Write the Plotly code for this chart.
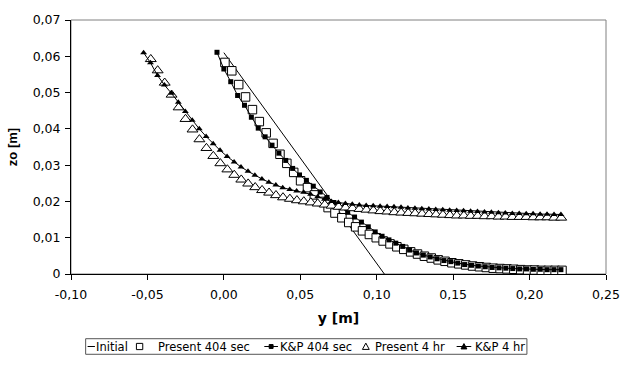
import plotly.graph_objects as go

# ---------------- data ----------------
initial_x = [0.0, 0.105]
initial_y = [0.061, 0.0]

present404_x = [0.0007, 0.0052, 0.0097, 0.0142, 0.0187, 0.0232, 0.0277, 0.0322, 0.0367, 0.0412,
                0.0457, 0.0502, 0.0547, 0.0592, 0.0637, 0.0682, 0.0727, 0.0772, 0.0817, 0.0862,
                0.0907, 0.0952, 0.0997, 0.1042, 0.1087, 0.1132, 0.1177, 0.1222, 0.1267, 0.1312,
                0.1357, 0.1402, 0.1447, 0.1492, 0.1537, 0.1582, 0.1627, 0.1672, 0.1717, 0.1762,
                0.1807, 0.1852, 0.1897, 0.1942, 0.1987, 0.2032, 0.2077, 0.2122, 0.2167, 0.2212]
present404_y = [0.0583, 0.0560, 0.0522, 0.0488, 0.0453, 0.0420, 0.0389, 0.0360, 0.0330, 0.0305,
                0.0280, 0.0257, 0.0238, 0.0218, 0.0200, 0.0183, 0.0168, 0.0155, 0.0142, 0.0130,
                0.0119, 0.0109, 0.0100, 0.0091, 0.0083, 0.0075, 0.0068, 0.0061, 0.0055, 0.0049,
                0.0044, 0.0039, 0.0035, 0.0031, 0.0028, 0.0025, 0.0022, 0.0020, 0.0018, 0.0016,
                0.0015, 0.0014, 0.0013, 0.0012, 0.0011, 0.0011, 0.0010, 0.0010, 0.0010, 0.0010]

kp404_x = [-0.0045, 0.0000, 0.0045, 0.0090, 0.0135, 0.0180, 0.0225, 0.0270, 0.0315, 0.0360,
           0.0405, 0.0450, 0.0495, 0.0540, 0.0585, 0.0630, 0.0675, 0.0720, 0.0765, 0.0810,
           0.0855, 0.0900, 0.0945, 0.0990, 0.1035, 0.1080, 0.1125, 0.1170, 0.1215, 0.1260,
           0.1305, 0.1350, 0.1395, 0.1440, 0.1485, 0.1530, 0.1575, 0.1620, 0.1665, 0.1710,
           0.1755, 0.1800, 0.1845, 0.1890, 0.1935, 0.1980, 0.2025, 0.2070, 0.2115, 0.2160,
           0.2205]
kp404_y = [0.0611, 0.0565, 0.0530, 0.0492, 0.0465, 0.0432, 0.0402, 0.0378, 0.0355, 0.0333,
           0.0313, 0.0291, 0.0273, 0.0258, 0.0242, 0.0226, 0.0211, 0.0197, 0.0183, 0.0170,
           0.0157, 0.0143, 0.0130, 0.0116, 0.0104, 0.0094, 0.0085, 0.0076, 0.0066, 0.0058,
           0.0052, 0.0047, 0.0042, 0.0037, 0.0034, 0.0030, 0.0026, 0.0024, 0.0022, 0.0020,
           0.0018, 0.0017, 0.0016, 0.0015, 0.0014, 0.0014, 0.0013, 0.0013, 0.0012, 0.0012,
           0.0012]

present4h_x = [-0.0478, -0.0433, -0.0387, -0.0342, -0.0296, -0.0251, -0.0205, -0.0160, -0.0114, -0.0069,
               -0.0023, 0.0023, 0.0068, 0.0114, 0.0159, 0.0205, 0.0250, 0.0296, 0.0341, 0.0387,
               0.0432, 0.0478, 0.0523, 0.0569, 0.0614, 0.0660, 0.0705, 0.0751, 0.0796, 0.0842,
               0.0887, 0.0933, 0.0978, 0.1024, 0.1069, 0.1115, 0.1160, 0.1206, 0.1251, 0.1297,
               0.1342, 0.1388, 0.1433, 0.1479, 0.1524, 0.1570, 0.1615, 0.1661, 0.1706, 0.1752,
               0.1797, 0.1843, 0.1888, 0.1934, 0.1979, 0.2025, 0.2070, 0.2116, 0.2161, 0.2207]
present4h_y = [0.0592, 0.0561, 0.0527, 0.0494, 0.0459, 0.0427, 0.0398, 0.0371, 0.0347, 0.0325,
               0.0305, 0.0288, 0.0273, 0.0260, 0.0249, 0.0239, 0.0231, 0.0224, 0.0217, 0.0211,
               0.0207, 0.0203, 0.0200, 0.0197, 0.0194, 0.0191, 0.0188, 0.0185, 0.0183, 0.0181,
               0.0179, 0.0177, 0.0175, 0.0173, 0.0172, 0.0170, 0.0169, 0.0168, 0.0167, 0.0166,
               0.0165, 0.0164, 0.0163, 0.0162, 0.0161, 0.0161, 0.0160, 0.0160, 0.0159, 0.0159,
               0.0158, 0.0158, 0.0157, 0.0157, 0.0157, 0.0156, 0.0156, 0.0156, 0.0155, 0.0155]

kp4h_x = [-0.0525, -0.0480, -0.0434, -0.0389, -0.0343, -0.0298, -0.0252, -0.0207, -0.0161, -0.0116,
          -0.0070, -0.0025, 0.0021, 0.0067, 0.0112, 0.0158, 0.0203, 0.0249, 0.0294, 0.0340,
          0.0385, 0.0431, 0.0476, 0.0522, 0.0567, 0.0613, 0.0658, 0.0704, 0.0749, 0.0795,
          0.0840, 0.0886, 0.0931, 0.0977, 0.1022, 0.1068, 0.1113, 0.1159, 0.1204, 0.1250,
          0.1295, 0.1341, 0.1386, 0.1432, 0.1477, 0.1523, 0.1568, 0.1614, 0.1659, 0.1705,
          0.1750, 0.1796, 0.1841, 0.1887, 0.1932, 0.1978, 0.2023, 0.2069, 0.2114, 0.2160,
          0.2205]
kp4h_y = [0.0610, 0.0582, 0.0547, 0.0521, 0.0498, 0.0473, 0.0448, 0.0424, 0.0400, 0.0379,
          0.0359, 0.0341, 0.0324, 0.0309, 0.0295, 0.0283, 0.0272, 0.0262, 0.0253, 0.0245,
          0.0238, 0.0233, 0.0229, 0.0225, 0.0220, 0.0213, 0.0206, 0.0200, 0.0197, 0.0194,
          0.0192, 0.0190, 0.0189, 0.0188, 0.0187, 0.0186, 0.0185, 0.0184, 0.0182, 0.0181,
          0.0180, 0.0179, 0.0178, 0.0177, 0.0176, 0.0175, 0.0174, 0.0173, 0.0172, 0.0171,
          0.0170, 0.0169, 0.0168, 0.0167, 0.0167, 0.0166, 0.0166, 0.0165, 0.0165, 0.0164,
          0.0164]

series_names = ["Initial", "Present 404 sec", "K&P 404 sec", "Present 4 hr", "K&P 4 hr"]

x_tickvals = [-0.10, -0.05, 0.00, 0.05, 0.10, 0.15, 0.20, 0.25]
x_ticktext = ["-0,10", "-0,05", "0,00", "0,05", "0,10", "0,15", "0,20", "0,25"]
y_tickvals = [0, 0.01, 0.02, 0.03, 0.04, 0.05, 0.06, 0.07]
y_ticktext = ["0", "0,01", "0,02", "0,03", "0,04", "0,05", "0,06", "0,07"]

WIDE = "DejaVu Sans, Verdana, sans-serif"
ARIAL = "Liberation Sans, Arial, sans-serif"

# plot-area geometry in pixels (for the hand-drawn legend box below the chart)
L, R, T, B = 71, 619, 13, 274
W, H = 632, 365


def px(x):
    return (x - L) / (R - L)


def py(y):
    return (B - y) / (B - T)


fig = go.Figure()
fig.add_trace(go.Scatter(x=initial_x, y=initial_y, mode="lines", name=series_names[0],
                         line=dict(color="black", width=1)))
fig.add_trace(go.Scatter(x=present404_x, y=present404_y, mode="markers", name=series_names[1],
                         marker=dict(symbol="square", size=8.5, color="white",
                                     line=dict(color="black", width=1))))
fig.add_trace(go.Scatter(x=kp404_x, y=kp404_y, mode="lines+markers", name=series_names[2],
                         line=dict(color="black", width=1),
                         marker=dict(symbol="square", size=5, color="black")))
fig.add_trace(go.Scatter(x=present4h_x, y=present4h_y, mode="markers", name=series_names[3],
                         marker=dict(symbol="triangle-up", size=9.5, color="white",
                                     line=dict(color="black", width=1))))
fig.add_trace(go.Scatter(x=kp4h_x, y=kp4h_y, mode="lines+markers", name=series_names[4],
                         line=dict(color="black", width=1),
                         marker=dict(symbol="triangle-up", size=6, color="black")))

# ---- legend (drawn as shapes + text to match the compact original layout) ----
LY = 348.5
shapes = [
    dict(type="rect", xref="paper", yref="paper", x0=0, y0=0, x1=1, y1=1,
         line=dict(color="#808080", width=1), layer="below"),
    dict(type="rect", xref="paper", yref="paper", x0=px(86), x1=px(538), y0=py(340.5), y1=py(356.5),
         line=dict(color="#555555", width=1), fillcolor="white"),
    # Initial: line
    dict(type="line", xref="paper", yref="paper", x0=px(88), x1=px(95.5), y0=py(LY), y1=py(LY),
         line=dict(color="black", width=1)),
    # Present 404: open square
    dict(type="rect", xref="paper", yref="paper", x0=px(138), x1=px(144.5), y0=py(LY - 3.2), y1=py(LY + 3.2),
         line=dict(color="black", width=1), fillcolor="white"),
    # K&P 404: line + filled square
    dict(type="line", xref="paper", yref="paper", x0=px(269), x1=px(283), y0=py(LY), y1=py(LY),
         line=dict(color="black", width=1)),
    dict(type="rect", xref="paper", yref="paper", x0=px(274), x1=px(278), y0=py(LY - 2), y1=py(LY + 2),
         line=dict(color="black", width=1), fillcolor="black"),
    # Present 4 hr: open triangle
    dict(type="path", xref="paper", yref="paper",
         path=f"M {px(369.5)},{py(LY + 3)} L {px(376.5)},{py(LY + 3)} L {px(373)},{py(LY - 3.5)} Z",
         line=dict(color="black", width=1), fillcolor="white"),
    # K&P 4 hr: line + filled triangle
    dict(type="line", xref="paper", yref="paper", x0=px(466), x1=px(481), y0=py(LY), y1=py(LY),
         line=dict(color="black", width=1)),
    dict(type="path", xref="paper", yref="paper",
         path=f"M {px(470.5)},{py(LY + 2.5)} L {px(476.5)},{py(LY + 2.5)} L {px(473.5)},{py(LY - 3)} Z",
         line=dict(color="black", width=1), fillcolor="black"),
]

text_x = [95.5, 159.5, 284.0, 381.5, 483.5]
annotations = [
    dict(text=name, xref="paper", yref="paper", x=px(tx), y=py(LY), xanchor="left", yanchor="middle",
         showarrow=False, font=dict(family=WIDE, size=11.5, color="black"), borderpad=0)
    for name, tx in zip(series_names, text_x)
]

fig.update_layout(
    width=W, height=H,
    margin=dict(l=L, r=W - R, t=T, b=H - B),
    paper_bgcolor="white", plot_bgcolor="white",
    font=dict(family=WIDE, size=12.5, color="black"),
    showlegend=False,
    shapes=shapes,
    annotations=annotations,
)
fig.update_xaxes(range=[-0.10, 0.25], tickvals=x_tickvals, ticktext=x_ticktext,
                 showgrid=False, zeroline=False, showline=True, linecolor="black", linewidth=1,
                 ticks="outside", ticklen=5, tickcolor="black", ticklabelstandoff=4,
                 ticklabeloverflow="allow",
                 title=dict(text="<b>y [m]</b>", font=dict(size=14, family=WIDE), standoff=12))
fig.update_yaxes(range=[0, 0.07], tickvals=y_tickvals, ticktext=y_ticktext,
                 showgrid=False, zeroline=False, showline=True, linecolor="black", linewidth=1,
                 ticks="outside", ticklen=5, tickcolor="black", ticklabelstandoff=2,
                 title=dict(text="<b>zo [m]</b>", font=dict(size=13, family=ARIAL), standoff=12))

fig.write_html("out.html")
